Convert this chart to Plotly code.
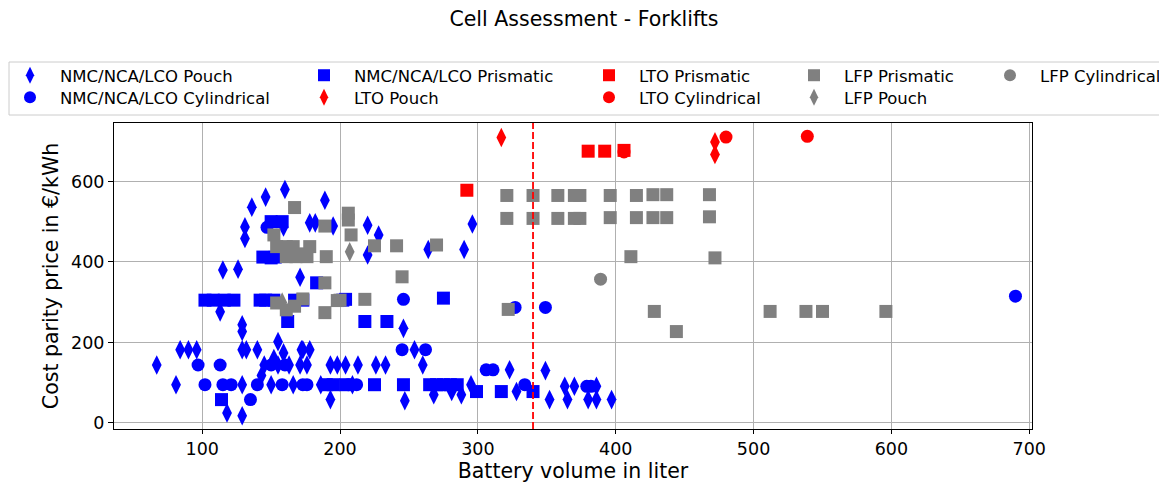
import plotly.graph_objects as go

# ---------------- data ----------------
nmc_pouch_x = [67, 81, 84, 90, 96, 113, 115, 118, 126, 129, 129, 129, 132, 140, 129, 129, 131, 131, 136, 146,
               160, 155, 159, 155, 145, 150, 159, 163, 172, 178, 171, 171, 178, 182, 189, 195, 193, 193, 198, 173,
               176, 213, 220, 228, 220, 226, 233, 246, 247, 254, 260, 264, 268, 281, 288, 290, 295, 296, 323, 328,
               349, 352, 363, 365, 370, 380, 386, 386, 397, 166, 143, 152, 186, 204, 209]
nmc_pouch_y = [144, 95, 182, 182, 182, 276, 380, 25, 382, 244, 227, 182, 182, 182, 95, 18, 487, 458, 536, 561,
               580, 202, 174, 144, 144, 95, 487, 144, 182, 182, 362, 144, 497, 497, 553, 489, 58, 144, 144, 182,
               144, 144, 491, 467, 417, 144, 144, 235, 55, 182, 144, 431, 70, 78, 70, 431, 95, 494, 132, 78,
               130, 58, 91, 58, 91, 58, 91, 58, 58, 95, 118, 160, 95, 144, 95]

nmc_cyl_x = [97, 113, 102, 115, 121, 135, 140, 150, 158, 173, 176, 206, 212, 245, 246, 262, 306, 311, 334,
             327, 349, 379, 382, 690, 160, 147]
nmc_cyl_y = [144, 144, 95, 95, 95, 58, 95, 144, 95, 95, 95, 95, 95, 182, 307, 182, 132, 132, 95,
             287, 287, 91, 91, 315, 144, 486]

nmc_prism_x = [102, 108, 116, 123, 146, 152, 167, 173, 202, 114, 150, 162, 183, 190, 195, 204, 218, 234, 225,
               246, 265, 270, 275, 280, 285, 299, 317, 340, 275, 204, 150, 158, 144, 153, 142]
nmc_prism_y = [305, 305, 305, 305, 305, 305, 305, 305, 305, 58, 410, 252, 348, 95, 95, 95, 252, 252, 95,
               95, 95, 95, 95, 95, 95, 78, 78, 78, 310, 307, 500, 500, 412, 412, 305]

lto_pouch_x = [317, 472, 472]
lto_pouch_y = [709, 698, 667]

lto_prism_x = [292, 380, 392, 406]
lto_prism_y = [578, 675, 675, 677]

lto_cyl_x = [406, 480, 539]
lto_cyl_y = [673, 710, 712]

lfp_prism_x = [152, 154, 161, 166, 178, 190, 161, 168, 176, 167, 206, 206, 208, 189, 225, 241, 270, 245,
               321, 321, 340, 340, 358, 358, 370, 370, 374, 374, 396, 396, 415, 415, 427, 427, 437, 437,
               468, 468, 411, 472, 428, 444, 512, 538, 550, 596, 322, 218, 198, 189, 189, 154, 161, 173,
               167, 172, 200]
lfp_prism_y = [467, 438, 438, 438, 438, 413, 413, 413, 413, 535, 521, 504, 467, 489, 440, 440, 442, 363,
               565, 508, 565, 508, 565, 508, 565, 508, 565, 508, 565, 510, 565, 510, 567, 510, 567, 510,
               567, 512, 413, 410, 277, 227, 277, 277, 277, 277, 282, 307, 304, 348, 274, 298, 281, 308,
               290, 420, 305]

lfp_pouch_x = [207, 158]
lfp_pouch_y = [425, 300]

lfp_cyl_x = [389]
lfp_cyl_y = [357]

threshold_volume = 340

x_ticks = [100, 200, 300, 400, 500, 600, 700]
y_ticks = [0, 200, 400, 600]

# ---------------- figure ----------------
FONT = "DejaVu Sans"
OFF = 8  # browser default body margin
W, H = 1167 - OFF, 485 - OFF
PL, PR, PT, PB = 114, 1032, 123, 429   # plot area in page pixels
ml, mr, mt, mb = PL - OFF, 1167 - PR, PT - OFF, 485 - PB
pw, ph = PR - PL, PB - PT

def px_x(p):
    return (p - PL) / pw

def px_y(p):
    return (PB - p) / ph

# legend slots: (marker centre x, row) in page pixels
COL_X = [30, 324, 609, 814, 1010]
ROW_TOP = [58, 80]

series = [
    ("NMC/NCA/LCO Pouch", nmc_pouch_x, nmc_pouch_y, "diamond-tall", "#0000ff", (0, 0)),
    ("NMC/NCA/LCO Cylindrical", nmc_cyl_x, nmc_cyl_y, "circle", "#0000ff", (0, 1)),
    ("NMC/NCA/LCO Prismatic", nmc_prism_x, nmc_prism_y, "square", "#0000ff", (1, 0)),
    ("LTO Pouch", lto_pouch_x, lto_pouch_y, "diamond-tall", "#ff0000", (1, 1)),
    ("LTO Prismatic", lto_prism_x, lto_prism_y, "square", "#ff0000", (2, 0)),
    ("LTO Cylindrical", lto_cyl_x, lto_cyl_y, "circle", "#ff0000", (2, 1)),
    ("LFP Prismatic", lfp_prism_x, lfp_prism_y, "square", "#808080", (3, 0)),
    ("LFP Pouch", lfp_pouch_x, lfp_pouch_y, "diamond-tall", "#808080", (3, 1)),
    ("LFP Cylindrical", lfp_cyl_x, lfp_cyl_y, "circle", "#808080", (4, 0)),
]

fig = go.Figure()
leg_kwargs = {}
for i, (name, xs, ys, sym, col, (c, r)) in enumerate(series):
    key = "legend" if i == 0 else f"legend{i + 1}"
    size = 14 if sym == "diamond-tall" else 13
    fig.add_trace(go.Scatter(
        x=xs, y=ys, mode="markers", name=name, legend=key,
        marker=dict(symbol=sym, color=col, size=size, line=dict(width=0)),
    ))
    leg_kwargs[key] = dict(
        x=px_x(COL_X[c] - 30), y=px_y(ROW_TOP[r]), xanchor="left", yanchor="top",
        orientation="v", bgcolor="rgba(0,0,0,0)", borderwidth=0,
        font=dict(family=FONT, size=16.5, color="#000"),
        itemsizing="constant", itemwidth=50,
    )

fig.add_vline(x=threshold_volume, line=dict(color="#ff0000", width=1.8, dash="7px,3px"))

fig.update_layout(
    width=W, height=H,
    margin=dict(l=ml, r=mr, t=mt, b=mb, autoexpand=False),
    paper_bgcolor="white", plot_bgcolor="white",
    font=dict(family=FONT, color="#000"),
    title=dict(text="Cell Assessment - Forklifts", x=(584 - OFF) / W, xref="container", xanchor="center",
               y=1 - (19 - OFF) / H, yref="container", yanchor="middle",
               font=dict(family=FONT, size=20.5, color="#000")),
    showlegend=True,
    **leg_kwargs,
)

fig.add_shape(type="rect", xref="paper", yref="paper",
              x0=px_x(9), x1=px_x(1164), y0=px_y(62), y1=px_y(115),
              line=dict(color="#cccccc", width=1), fillcolor="rgba(0,0,0,0)", layer="below")

fig.update_xaxes(
    range=[36, 702], tickvals=x_ticks, ticktext=[str(v) for v in x_ticks],
    showgrid=True, gridcolor="#b0b0b0", gridwidth=1,
    showline=True, linecolor="#000", linewidth=1, mirror=True,
    ticks="outside", ticklen=4, tickcolor="#000",
    tickfont=dict(family=FONT, size=17.5), zeroline=False,
    title=dict(text="Battery volume in liter", font=dict(family=FONT, size=20.5), standoff=0),
)
fig.update_yaxes(
    range=[-15, 745], tickvals=y_ticks, ticktext=[str(v) for v in y_ticks],
    showgrid=True, gridcolor="#b0b0b0", gridwidth=1,
    showline=True, linecolor="#000", linewidth=1, mirror=True,
    ticks="outside", ticklen=5, tickcolor="#000",
    tickfont=dict(family=FONT, size=17.5), zeroline=False,
    title=dict(text="Cost parity price in €/kWh", font=dict(family=FONT, size=20.5), standoff=6),
)

fig.write_html("out.html")
